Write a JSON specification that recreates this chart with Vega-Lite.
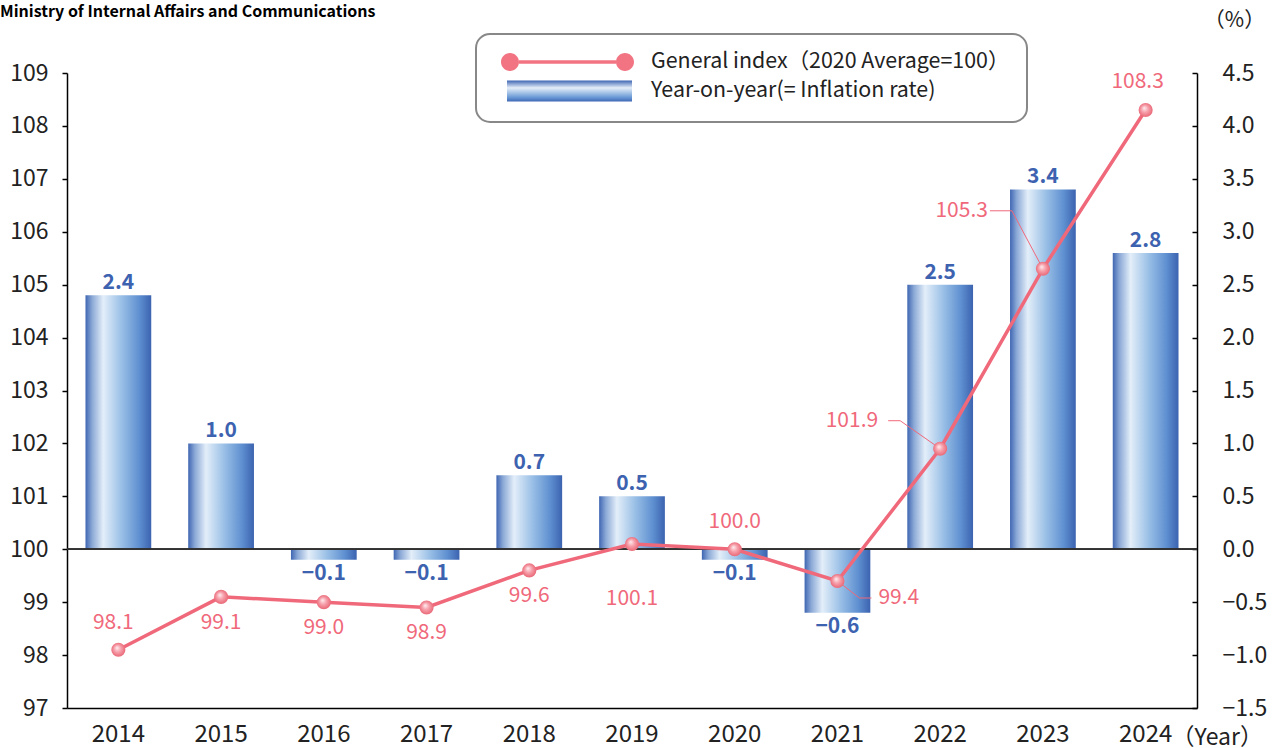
{
  "$schema": "https://vega.github.io/schema/vega-lite/v6.json",
  "width": 1130,
  "height": 635,
  "autosize": {"type": "none"},
  "padding": {"left": 67, "top": 73, "right": 83, "bottom": 40},
  "background": "white",
  "config": {
    "view": {"stroke": null},
    "font": "Noto Sans CJK JP",
    "axis": {"grid": false, "domainColor": "#000", "domainWidth": 1.5, "tickColor": "#000", "tickWidth": 1.5, "labelColor": "#222", "labelFont": "Noto Sans CJK JP", "titleFont": "Noto Sans CJK JP", "titleColor": "#222", "titleFontWeight": "normal"}
  },
  "title": {
    "text": "Ministry of Internal Affairs and Communications",
    "anchor": "start",
    "frame": "group",
    "fontSize": 16,
    "fontWeight": "bold",
    "color": "#000",
    "dx": -67,
    "dy": 15
  },
  "data": {
    "values": [
      {"year": "2014", "index": 98.1, "rate": 2.4},
      {"year": "2015", "index": 99.1, "rate": 1.0},
      {"year": "2016", "index": 99.0, "rate": -0.1},
      {"year": "2017", "index": 98.9, "rate": -0.1},
      {"year": "2018", "index": 99.6, "rate": 0.7},
      {"year": "2019", "index": 100.1, "rate": 0.5},
      {"year": "2020", "index": 100.0, "rate": -0.1},
      {"year": "2021", "index": 99.4, "rate": -0.6},
      {"year": "2022", "index": 101.9, "rate": 2.5},
      {"year": "2023", "index": 105.3, "rate": 3.4},
      {"year": "2024", "index": 108.3, "rate": 2.8}
    ]
  },
  "resolve": {"scale": {"y": "independent"}},
  "layer": [
    {
      "layer": [
        {
          "mark": {
            "type": "bar",
            "color": {"gradient": "linear", "x1": 0, "y1": 0, "x2": 1, "y2": 0,
              "stops": [
                {"offset": 0, "color": "#3f66b2"},
                {"offset": 0.1, "color": "#8aa8d6"},
                {"offset": 0.27, "color": "#e3eef9"},
                {"offset": 0.55, "color": "#99bfe6"},
                {"offset": 0.82, "color": "#5e8fd0"},
                {"offset": 1, "color": "#3c63b0"}
              ]}
          },
          "encoding": {
            "x": {"field": "year", "type": "ordinal", "scale": {"paddingInner": 0.36, "paddingOuter": 0.18},
              "axis": {"orient": "bottom", "labelAngle": 0, "ticks": false, "labelFontSize": 24, "labelPadding": 14,
                "title": "（Year）", "titleX": 1104, "titleY": 29, "titleAlign": "left", "titleBaseline": "middle", "titleFontSize": 23}},
            "y": {"field": "rate", "type": "quantitative", "scale": {"domain": [-1.5, 4.5], "nice": false, "zero": false},
              "axis": {"orient": "right", "values": [-1.5, -1, -0.5, 0, 0.5, 1, 1.5, 2, 2.5, 3, 3.5, 4, 4.5], "format": ".1f",
                "tickSize": -5, "labelPadding": 30, "labelFontSize": 23,
                "title": "（%）", "titleAngle": 0, "titleX": 37, "titleY": -53, "titleAlign": "center", "titleBaseline": "middle", "titleFontSize": 21}}
          }
        },
        {
          "mark": {"type": "rule", "color": "#333", "strokeWidth": 1.2},
          "encoding": {"y": {"datum": 0, "type": "quantitative"}}
        },
        {
          "transform": [{"filter": "datum.rate >= 0"}],
          "mark": {"type": "text", "baseline": "alphabetic", "dy": -6, "fontSize": 21, "fontWeight": "bold", "color": "#3d62b0"},
          "encoding": {
            "x": {"field": "year", "type": "ordinal"},
            "y": {"field": "rate", "type": "quantitative"},
            "text": {"field": "rate", "type": "quantitative", "format": ".1f"}
          }
        },
        {
          "transform": [{"filter": "datum.rate < 0"}],
          "mark": {"type": "text", "baseline": "top", "dy": 3, "fontSize": 21, "fontWeight": "bold", "color": "#3d62b0"},
          "encoding": {
            "x": {"field": "year", "type": "ordinal"},
            "y": {"field": "rate", "type": "quantitative"},
            "text": {"field": "rate", "type": "quantitative", "format": ".1f"}
          }
        },
        {
          "mark": {"type": "point", "opacity": 0},
          "encoding": {
            "shape": {
              "datum": "General index（2020 Average=100）",
              "scale": {
                "domain": ["General index（2020 Average=100）", "Year-on-year(= Inflation rate)"],
                "range": [
                  "M1.5,-0.17L11.2,-0.17L11.2,0.17L1.5,0.17Z M1.5,0A0.9,0.9 0 1,1 -0.3,0A0.9,0.9 0 1,1 1.5,0Z M13,0A0.9,0.9 0 1,1 11.2,0A0.9,0.9 0 1,1 13,0Z",
                  "M0.3,-1.05L12.8,-1.05L12.8,1.05L0.3,1.05Z"
                ]
              },
              "legend": {
                "orient": "none", "legendX": 409, "legendY": -39, "title": null,
                "strokeColor": "#888", "cornerRadius": 14, "fillColor": "white",
                "padding": 17, "symbolSize": 400, "labelOffset": 136, "rowPadding": 2,
                "labelFontSize": 21.4, "labelColor": "#222", "labelFont": "Noto Sans CJK JP", "labelLimit": 600,
                "encoding": {
                  "legend": {"strokeWidth": {"value": 2}},
                  "symbols": {
                    "fill": {
                      "condition": {"test": "datum.value === 'Year-on-year(= Inflation rate)'", "value": {"gradient": "linear", "x1": 0, "y1": 0, "x2": 0, "y2": 1,
                        "stops": [
                          {"offset": 0, "color": "#3f66b3"},
                          {"offset": 0.35, "color": "#e5eef9"},
                          {"offset": 0.8, "color": "#6a9ad6"},
                          {"offset": 1, "color": "#3f68b6"}
                        ]}},
                      "value": "#f27483"
                    },
                    "stroke": {"value": "transparent"},
                    "opacity": {"value": 1}
                  }
                }
              }
            }
          }
        },
        {
          "mark": {"type": "point", "opacity": 0},
          "encoding": {"shape": {"datum": "Year-on-year(= Inflation rate)"}}
        }
      ]
    },
    {
      "layer": [
        {
          "mark": {"type": "line", "color": "#f0697b", "strokeWidth": 3.5},
          "encoding": {
            "x": {"field": "year", "type": "ordinal"},
            "y": {"field": "index", "type": "quantitative", "scale": {"domain": [97, 109], "nice": false, "zero": false},
              "axis": {"orient": "left", "values": [97, 98, 99, 100, 101, 102, 103, 104, 105, 106, 107, 108, 109],
                "tickSize": 5, "labelPadding": 14, "labelFontSize": 23, "title": null}}
          }
        },
        {
          "transform": [{"filter": "datum.year == '2021'"}],
          "mark": {"type": "rule", "color": "#f0697b", "strokeWidth": 1, "x2Offset": 22, "y2Offset": 17},
          "encoding": {"x": {"field": "year", "type": "ordinal"}, "x2": {"field": "year"}, "y": {"field": "index", "type": "quantitative"}, "y2": {"field": "index"}}
        },
        {
          "transform": [{"filter": "datum.year == '2021'"}],
          "mark": {"type": "rule", "color": "#f0697b", "strokeWidth": 1, "xOffset": 22, "yOffset": 17, "x2Offset": 34, "y2Offset": 17},
          "encoding": {"x": {"field": "year", "type": "ordinal"}, "x2": {"field": "year"}, "y": {"field": "index", "type": "quantitative"}, "y2": {"field": "index"}}
        },
        {
          "transform": [{"filter": "datum.year == '2022'"}],
          "mark": {"type": "rule", "color": "#f0697b", "strokeWidth": 1, "xOffset": -52, "yOffset": -28, "x2Offset": -40, "y2Offset": -28},
          "encoding": {"x": {"field": "year", "type": "ordinal"}, "x2": {"field": "year"}, "y": {"field": "index", "type": "quantitative"}, "y2": {"field": "index"}}
        },
        {
          "transform": [{"filter": "datum.year == '2022'"}],
          "mark": {"type": "rule", "color": "#f0697b", "strokeWidth": 1, "xOffset": -40, "yOffset": -28, "x2Offset": 0, "y2Offset": 0},
          "encoding": {"x": {"field": "year", "type": "ordinal"}, "x2": {"field": "year"}, "y": {"field": "index", "type": "quantitative"}, "y2": {"field": "index"}}
        },
        {
          "transform": [{"filter": "datum.year == '2023'"}],
          "mark": {"type": "rule", "color": "#f0697b", "strokeWidth": 1, "xOffset": -53, "yOffset": -58, "x2Offset": -31, "y2Offset": -58},
          "encoding": {"x": {"field": "year", "type": "ordinal"}, "x2": {"field": "year"}, "y": {"field": "index", "type": "quantitative"}, "y2": {"field": "index"}}
        },
        {
          "transform": [{"filter": "datum.year == '2023'"}],
          "mark": {"type": "rule", "color": "#f0697b", "strokeWidth": 1, "xOffset": -31, "yOffset": -58, "x2Offset": 0, "y2Offset": 0},
          "encoding": {"x": {"field": "year", "type": "ordinal"}, "x2": {"field": "year"}, "y": {"field": "index", "type": "quantitative"}, "y2": {"field": "index"}}
        },
        {
          "mark": {"type": "point", "filled": true, "size": 200, "opacity": 1, "strokeWidth": 0,
            "fill": {"gradient": "radial", "x1": 0.4, "y1": 0.35, "r1": 0, "x2": 0.5, "y2": 0.5, "r2": 0.55,
              "stops": [
                {"offset": 0, "color": "#fff0f2"},
                {"offset": 0.45, "color": "#f6a0ab"},
                {"offset": 1, "color": "#e8606f"}
              ]}},
          "encoding": {
            "x": {"field": "year", "type": "ordinal"},
            "y": {"field": "index", "type": "quantitative"}
          }
        },
        {
          "transform": [{"filter": "datum.year == '2014'"}],
          "mark": {"type": "text", "baseline": "middle", "dx": -5, "dy": -27, "fontSize": 21, "color": "#f0697b"},
          "encoding": {"x": {"field": "year", "type": "ordinal"}, "y": {"field": "index", "type": "quantitative"}, "text": {"field": "index", "type": "quantitative", "format": ".1f"}}
        },
        {
          "transform": [{"filter": "datum.year == '2020'"}],
          "mark": {"type": "text", "baseline": "middle", "dx": 0, "dy": -27, "fontSize": 21, "color": "#f0697b"},
          "encoding": {"x": {"field": "year", "type": "ordinal"}, "y": {"field": "index", "type": "quantitative"}, "text": {"field": "index", "type": "quantitative", "format": ".1f"}}
        },
        {
          "transform": [{"filter": "datum.year == '2024'"}],
          "mark": {"type": "text", "baseline": "middle", "dx": -8, "dy": -28, "fontSize": 21, "color": "#f0697b"},
          "encoding": {"x": {"field": "year", "type": "ordinal"}, "y": {"field": "index", "type": "quantitative"}, "text": {"field": "index", "type": "quantitative", "format": ".1f"}}
        },
        {
          "transform": [{"filter": {"field": "year", "oneOf": ["2015", "2016", "2017", "2018"]}}],
          "mark": {"type": "text", "baseline": "middle", "dy": 26, "fontSize": 21, "color": "#f0697b"},
          "encoding": {"x": {"field": "year", "type": "ordinal"}, "y": {"field": "index", "type": "quantitative"}, "text": {"field": "index", "type": "quantitative", "format": ".1f"}}
        },
        {
          "transform": [{"filter": "datum.year == '2019'"}],
          "mark": {"type": "text", "baseline": "middle", "dy": 55, "fontSize": 21, "color": "#f0697b"},
          "encoding": {"x": {"field": "year", "type": "ordinal"}, "y": {"field": "index", "type": "quantitative"}, "text": {"field": "index", "type": "quantitative", "format": ".1f"}}
        },
        {
          "transform": [{"filter": "datum.year == '2021'"}],
          "mark": {"type": "text", "baseline": "middle", "align": "left", "dx": 41, "dy": 17, "fontSize": 21, "color": "#f0697b"},
          "encoding": {"x": {"field": "year", "type": "ordinal"}, "y": {"field": "index", "type": "quantitative"}, "text": {"field": "index", "type": "quantitative", "format": ".1f"}}
        },
        {
          "transform": [{"filter": "datum.year == '2022'"}],
          "mark": {"type": "text", "baseline": "middle", "align": "right", "dx": -62, "dy": -28, "fontSize": 21, "color": "#f0697b"},
          "encoding": {"x": {"field": "year", "type": "ordinal"}, "y": {"field": "index", "type": "quantitative"}, "text": {"field": "index", "type": "quantitative", "format": ".1f"}}
        },
        {
          "transform": [{"filter": "datum.year == '2023'"}],
          "mark": {"type": "text", "baseline": "middle", "align": "right", "dx": -55, "dy": -58, "fontSize": 21, "color": "#f0697b"},
          "encoding": {"x": {"field": "year", "type": "ordinal"}, "y": {"field": "index", "type": "quantitative"}, "text": {"field": "index", "type": "quantitative", "format": ".1f"}}
        }
      ]
    }
  ]
}
